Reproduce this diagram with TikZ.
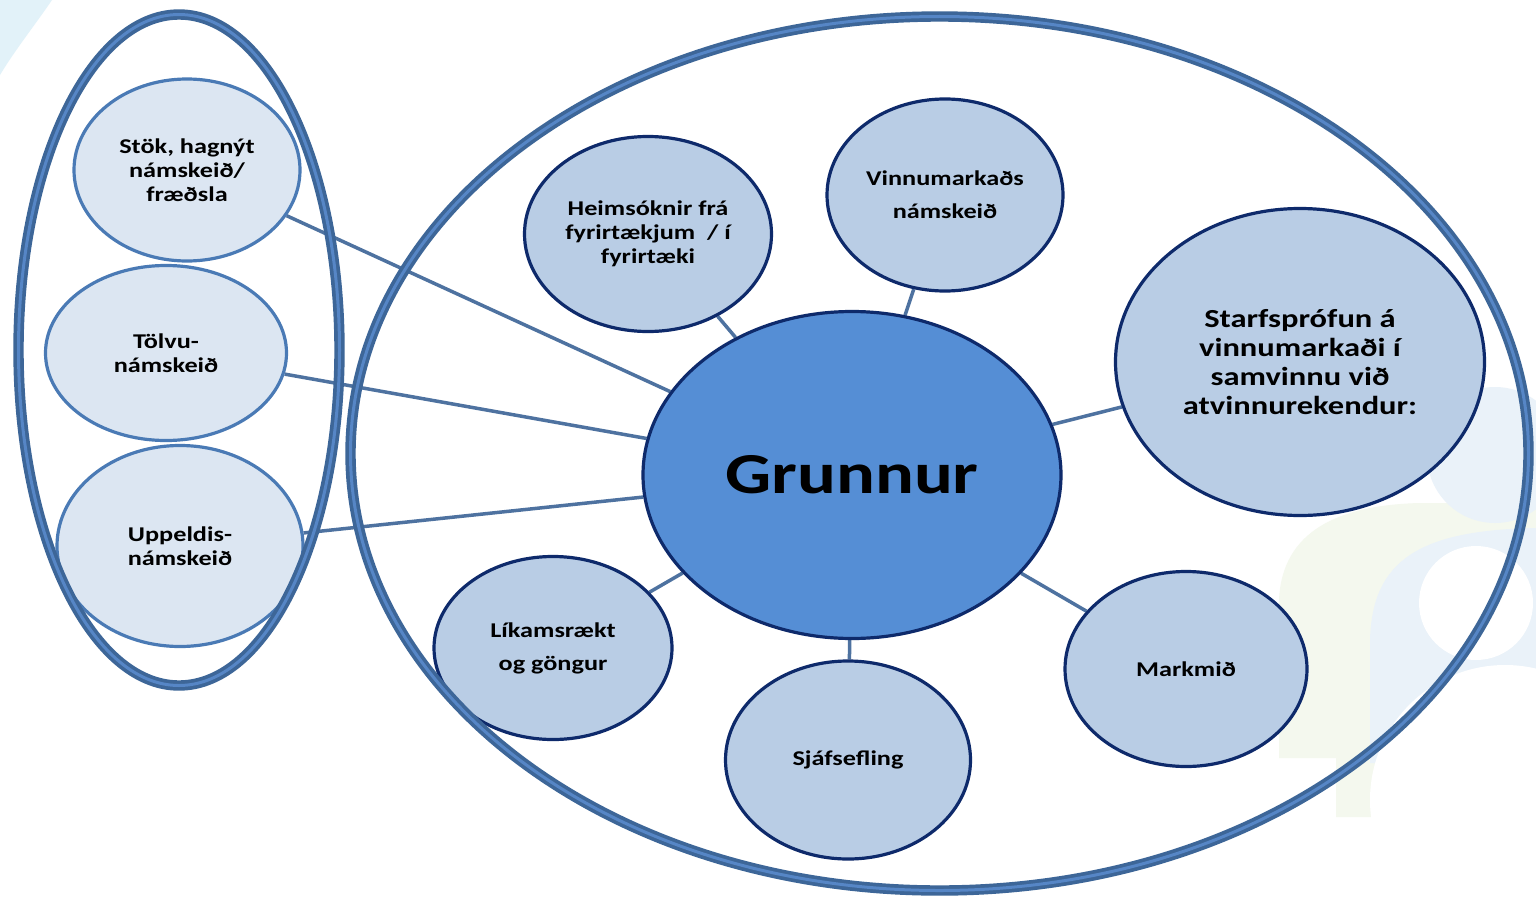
\documentclass[tikz,border=0pt]{standalone}
\usepackage{fontspec}
\newfontfamily\lbl{Carlito}[FakeStretch=1.25]
\usetikzlibrary{shapes.geometric}
\pgfdeclarelayer{logo}
\pgfdeclarelayer{bg}
\pgfsetlayers{logo,bg,main}
\definecolor{smallfill}{HTML}{DCE6F2}
\definecolor{smallborder}{HTML}{4A7AB5}
\definecolor{satfill}{HTML}{B9CDE5}
\definecolor{satborder}{HTML}{0E2A6B}
\definecolor{corefill}{HTML}{558ED5}
\definecolor{linkc}{HTML}{4E72A0}
\definecolor{ringdark}{HTML}{3D6698}
\definecolor{ringlight}{HTML}{5686C6}
\definecolor{logoblue}{HTML}{EAF2F9}
\definecolor{logogreen}{HTML}{F4F8EE}
\definecolor{logocyan}{HTML}{E2F2F9}
\begin{document}
\begin{tikzpicture}[x=1pt,y=-1pt,
  ell/.style={ellipse, inner sep=0pt, align=center, text=black,
    font=\lbl\bfseries\fontsize{21}{24}\selectfont},
  leftnode/.style={ell, draw=smallborder, fill=smallfill, line width=3.2pt},
  satnode/.style={ell, draw=satborder, fill=satfill, line width=3.2pt},
  corenode/.style={ell, draw=satborder, fill=corefill, line width=3.2pt,
    font=\lbl\bfseries\fontsize{58}{64}\selectfont},
  link/.style={draw=linkc, line width=3.5pt},
  ring/.style={ellipse, inner sep=0pt, draw=ringdark, line width=3.7pt,
    double=ringlight, double distance=3pt}
]
\useasboundingbox (0,0) rectangle (1536,899);

% faint background logo
\begin{pgfonlayer}{logo}
\fill[white] (0,0) rectangle (1536,899);
\fill[logocyan] (0,0) -- (52,0) .. controls (35,25) and (15,50) .. (0,75) -- cycle;
\fill[logogreen] (1279,758) -- (1279,600) .. controls (1282,530) and (1340,505) .. (1420,503)
  -- (1536,503) -- (1536,760) -- (1393,760) -- (1393,817) -- (1336,817) -- (1336,758) -- cycle;
\fill[logoblue] (1370,763) -- (1370,640) .. controls (1372,560) and (1420,530) .. (1536,528)
  -- (1536,763) -- cycle;
\fill[white] (1476,603) circle[radius=57];
\fill[white] (1505,800) circle[radius=135];
\fill[logoblue] (1495,455) circle[radius=68];
\end{pgfonlayer}

% nodes
\node[corenode, minimum width=418, minimum height=327] (grunnur) at (852,475) {Grunnur};

\node[leftnode, minimum width=226, minimum height=182] (stok) at (187,170) {Stök, hagnýt\\námskeið/\\fræðsla};
\node[leftnode, minimum width=241, minimum height=175] (tolvu) at (166,353) {Tölvu-\\námskeið};
\node[leftnode, minimum width=246, minimum height=201] (uppeldi) at (180,546) {Uppeldis-\\námskeið};

\node[satnode, minimum width=247, minimum height=195] (heim) at (648,234) {Heimsóknir frá\\fyrirtækjum~~/ í\\fyrirtæki};
\node[satnode, minimum width=236, minimum height=192, font=\lbl\bfseries\fontsize{21}{33}\selectfont] (vinnu) at (945,195) {Vinnumarkaðs\\námskeið};
\node[satnode, minimum width=369, minimum height=307, font=\lbl\bfseries\fontsize{26}{29}\selectfont] (starf) at (1300,362) {Starfsprófun á\\vinnumarkaði í\\samvinnu við\\atvinnurekendur:};
\node[satnode, minimum width=242, minimum height=195] (mark) at (1186,669) {Markmið};
\node[satnode, minimum width=245, minimum height=198] (sjalf) at (848,760) {Sjáfsefling};
\node[satnode, minimum width=238, minimum height=183, font=\lbl\bfseries\fontsize{21}{33}\selectfont] (likam) at (553,648) {Líkamsrækt\\og göngur};

% connectors
\begin{pgfonlayer}{bg}
\draw[link] (stok) -- (grunnur);
\draw[link] (tolvu) -- (grunnur);
\draw[link] (uppeldi) -- (grunnur);
\draw[link] (heim) -- (grunnur);
\draw[link] (vinnu) -- (grunnur);
\draw[link] (starf) -- (grunnur);
\draw[link] (mark) -- (grunnur);
\draw[link] (sjalf) -- (grunnur);
\draw[link] (likam) -- (grunnur);
\end{pgfonlayer}

% enclosing rings
\node[ring, minimum width=321, minimum height=671] (leftring) at (179,350) {};
\node[ring, minimum width=1178, minimum height=874] (bigring) at (939.5,453.5) {};
\end{tikzpicture}
\end{document}
